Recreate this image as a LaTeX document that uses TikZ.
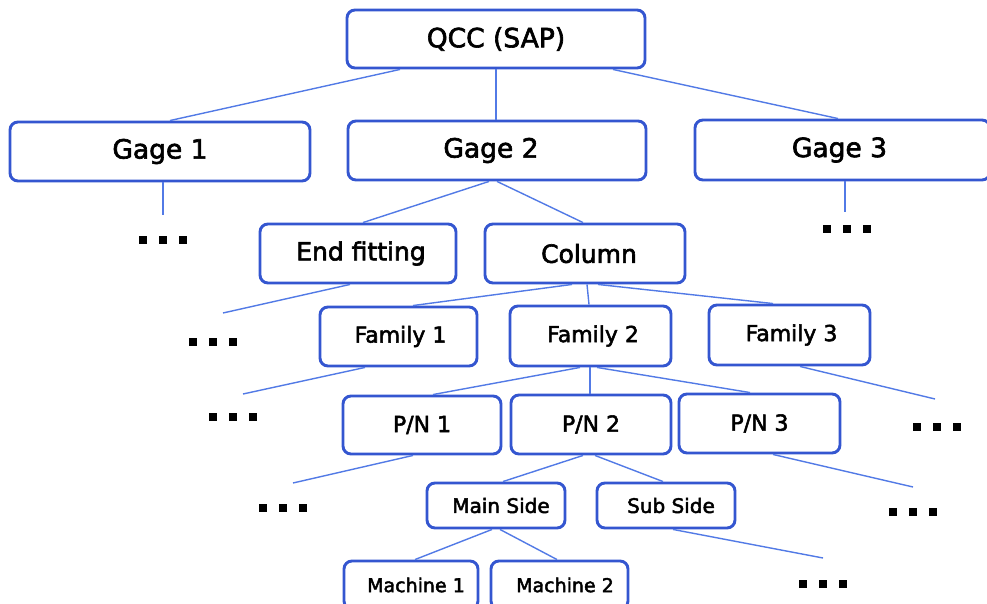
\documentclass[tikz,border=0pt]{standalone}
\usepackage{fontspec}
\setmainfont{DejaVu Sans}[FakeBold=2.4]
\usetikzlibrary{calc}
\definecolor{boxblue}{RGB}{52,86,208}
\definecolor{lineblue}{RGB}{82,122,230}
\tikzset{
  box/.style={draw=boxblue, line width=2.9pt, rounded corners=8pt, fill=white, inner sep=0pt, text=black, align=center},
  fA/.style={font=\fontsize{26.5}{30}\selectfont},
  fB/.style={font=\fontsize{25}{29}\selectfont},
  fC/.style={font=\fontsize{22}{26}\selectfont},
  fD/.style={font=\fontsize{20}{23}\selectfont},
  fE/.style={font=\fontsize{19}{22}\selectfont},
  conn/.style={draw=lineblue, line width=1.4pt},
  dots/.style={inner sep=0pt, text=black}
}
\newcommand{\threedots}{\rule{7.5pt}{7.5pt}\hspace{12.5pt}\rule{7.5pt}{7.5pt}\hspace{12.5pt}\rule{7.5pt}{7.5pt}}
\begin{document}
\begin{tikzpicture}[x=1pt, y=-1pt]
\clip (0,0) rectangle (987,604);
\fill[white] (0,0) rectangle (987,604);
% boxes
\node[box, fA, minimum width=298pt, minimum height=58pt] (qcc) at (496,39) {QCC (SAP)};
\node[box, fA, minimum width=300pt, minimum height=59pt] (gage1) at (160,151.5) {Gage 1};
\node[box, fA, minimum width=298pt, minimum height=59pt] (gage2) at (497,150.5) {Gage 2\hspace*{12pt}};
\node[box, fA, minimum width=295pt, minimum height=60pt] (gage3) at (842.5,150) {Gage 3\hspace*{6pt}};
\node[box, fB, minimum width=196pt, minimum height=59pt] (endfit) at (358,253.5) {\hspace*{6pt}End fitting};
\node[box, fB, minimum width=200pt, minimum height=59pt] (column) at (585,253.5) {\hspace*{8pt}Column};
\node[box, fC, minimum width=157pt, minimum height=59pt] (fam1) at (398.5,336.5) {\hspace*{4pt}Family 1};
\node[box, fC, minimum width=161pt, minimum height=60pt] (fam2) at (590.5,336) {\hspace*{5pt}Family 2};
\node[box, fC, minimum width=161pt, minimum height=60pt] (fam3) at (789.5,335) {\hspace*{4pt}Family 3};
\node[box, fC, minimum width=158pt, minimum height=58pt] (pn1) at (422,425) {P/N 1};
\node[box, fC, minimum width=160pt, minimum height=59pt] (pn2) at (591,424.5) {P/N 2};
\node[box, fC, minimum width=161pt, minimum height=59pt] (pn3) at (759.5,423.5) {P/N 3};
\node[box, fD, minimum width=138pt, minimum height=45pt] (main) at (496,505.5) {\hspace*{10pt}Main Side};
\node[box, fD, minimum width=138pt, minimum height=45pt] (sub) at (666,505.5) {\hspace*{10pt}Sub Side};
\node[box, fE, minimum width=134pt, minimum height=48pt] (mach1) at (411,585) {\hspace*{10pt}Machine 1};
\node[box, fE, minimum width=137pt, minimum height=48pt] (mach2) at (559.5,585) {\hspace*{11pt}Machine 2};
% dots
\node[dots] (d1) at (163,240) {\threedots};
\node[dots] (d3) at (847,229) {\threedots};
\node[dots] (def) at (213,342) {\threedots};
\node[dots] (df1) at (233,417) {\threedots};
\node[dots] (dpn1) at (283,508) {\threedots};
\node[dots] (df3) at (937,427) {\threedots};
\node[dots] (dpn3) at (913,512) {\threedots};
\node[dots] (dsub) at (823,584) {\threedots};
% free ends
\coordinate (e1) at (163,215);
\coordinate (e3) at (845,212);
\coordinate (eef) at (223,313);
\coordinate (ef1) at (243,394);
\coordinate (epn1) at (293,483);
\coordinate (ef3) at (935,399);
\coordinate (epn3) at (913,487);
\coordinate (esub) at (823,558);
% connectors
\draw[conn] ([xshift=-96pt]qcc.south) -- ([xshift=10pt]gage1.north);
\draw[conn] (qcc.south) -- (qcc.south |- gage2.north);
\draw[conn] ([xshift=117pt]qcc.south) -- ([xshift=-4.5pt]gage3.north);
\draw[conn] ([xshift=3pt]gage1.south) -- (e1);
\draw[conn] ([xshift=2.5pt]gage3.south) -- (e3);
\draw[conn] ([xshift=-8pt]gage2.south) -- ([xshift=5pt]endfit.north);
\draw[conn] (gage2.south) -- ([xshift=-2pt]column.north);
\draw[conn] ([xshift=-8pt]endfit.south) -- (eef);
\draw[conn] ([xshift=-13pt]column.south) -- ([xshift=14.5pt]fam1.north);
\draw[conn] ([xshift=2pt]column.south) -- ([xshift=-1.5pt]fam2.north);
\draw[conn] ([xshift=13pt]column.south) -- ([xshift=-16.5pt]fam3.north);
\draw[conn] ([xshift=-33.5pt]fam1.south) -- (ef1);
\draw[conn] ([xshift=10.5pt]fam3.south) -- (ef3);
\draw[conn] ([xshift=-10.5pt]fam2.south) -- ([xshift=11pt]pn1.north);
\draw[conn] ([xshift=-0.5pt]fam2.south) -- ([xshift=-1pt]pn2.north);
\draw[conn] ([xshift=6.5pt]fam2.south) -- ([xshift=-9.5pt]pn3.north);
\draw[conn] ([xshift=-9pt]pn1.south) -- (epn1);
\draw[conn] ([xshift=13.5pt]pn3.south) -- (epn3);
\draw[conn] ([xshift=-8pt]pn2.south) -- ([xshift=7pt]main.north);
\draw[conn] ([xshift=4pt]pn2.south) -- ([xshift=-3pt]sub.north);
\draw[conn] ([xshift=7pt]sub.south) -- (esub);
\draw[conn] ([xshift=-4pt]main.south) -- ([xshift=4pt]mach1.north);
\draw[conn] ([xshift=4pt]main.south) -- ([xshift=-2.5pt]mach2.north);
\end{tikzpicture}
\end{document}
